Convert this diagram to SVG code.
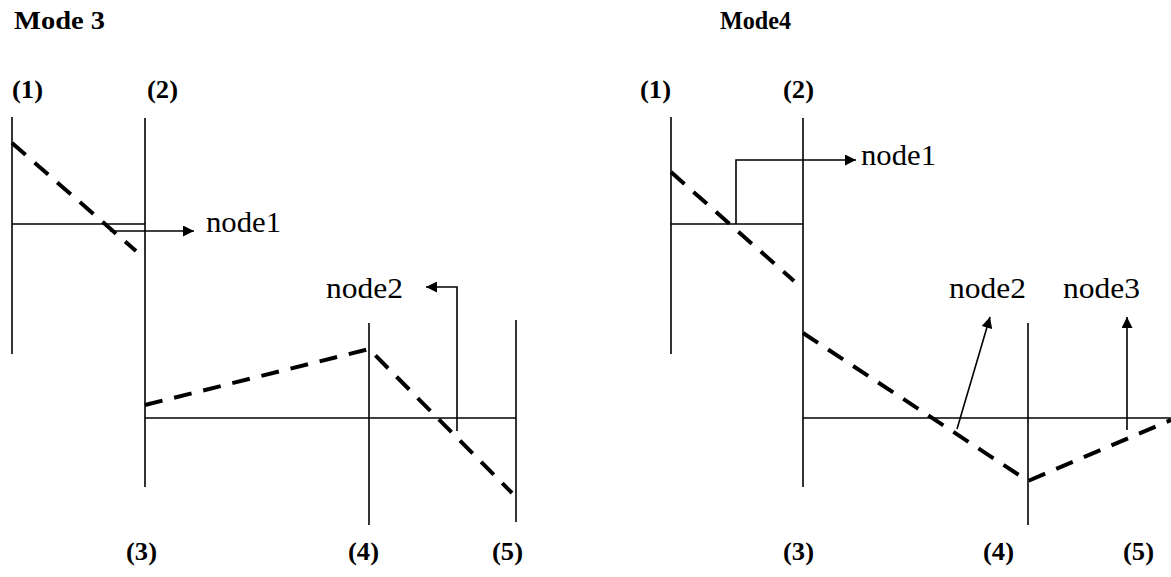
<svg xmlns="http://www.w3.org/2000/svg" width="1171" height="577" viewBox="0 0 1171 577">
<style>
.ln{stroke:#000;stroke-width:1.6;fill:none}
.ds{stroke:#000;stroke-width:4;fill:none;stroke-dasharray:18 12}
.ar{stroke:#000;stroke-width:1.6;fill:none;marker-end:url(#ah)}
.t{font-family:"Liberation Serif","Times New Roman",serif;font-size:29px;fill:#000}
.b{font-family:"Liberation Serif","Times New Roman",serif;font-size:26px;font-weight:bold;fill:#000}
</style>
<defs>
<marker id="ah" viewBox="0 0 10 10" refX="10" refY="5" markerWidth="13" markerHeight="11" markerUnits="userSpaceOnUse" orient="auto"><path d="M0,0 L10,5 L0,10 z" fill="#000"/></marker>
</defs>
<rect width="1171" height="577" fill="#fff"/>
<g id="titles">
<text class="b" x="14" y="29" textLength="91" lengthAdjust="spacingAndGlyphs">Mode 3</text>
<text class="b" x="720" y="29" textLength="71" lengthAdjust="spacingAndGlyphs">Mode4</text>
</g>
<g id="labels">
<text class="b" x="12" y="98" textLength="31" lengthAdjust="spacingAndGlyphs">(1)</text>
<text class="b" x="147" y="98" textLength="31" lengthAdjust="spacingAndGlyphs">(2)</text>
<text class="b" x="126" y="560" textLength="31" lengthAdjust="spacingAndGlyphs">(3)</text>
<text class="b" x="348" y="560" textLength="31" lengthAdjust="spacingAndGlyphs">(4)</text>
<text class="b" x="492" y="560" textLength="31" lengthAdjust="spacingAndGlyphs">(5)</text>
<text class="b" x="640" y="98" textLength="31" lengthAdjust="spacingAndGlyphs">(1)</text>
<text class="b" x="783" y="98" textLength="31" lengthAdjust="spacingAndGlyphs">(2)</text>
<text class="b" x="783" y="560" textLength="31" lengthAdjust="spacingAndGlyphs">(3)</text>
<text class="b" x="983" y="560" textLength="31" lengthAdjust="spacingAndGlyphs">(4)</text>
<text class="b" x="1123" y="560" textLength="31" lengthAdjust="spacingAndGlyphs">(5)</text>
</g>
<g id="mode3">
<line class="ln" x1="12" y1="117" x2="12" y2="354"/>
<line class="ln" x1="145" y1="118" x2="145" y2="487"/>
<line class="ln" x1="12" y1="224" x2="145" y2="224"/>
<line class="ln" x1="145" y1="418" x2="516" y2="418"/>
<line class="ln" x1="369" y1="323" x2="369" y2="525"/>
<line class="ln" x1="516" y1="320" x2="516" y2="522"/>
<polyline class="ds" points="12,143 136,251"/>
<polyline class="ds" points="145,405 369,349 512,493"/>
</g>
<g id="mode4">
<line class="ln" x1="671" y1="117" x2="671" y2="354"/>
<line class="ln" x1="803" y1="118" x2="803" y2="487"/>
<line class="ln" x1="671" y1="224" x2="803" y2="224"/>
<line class="ln" x1="803" y1="418" x2="1171" y2="418"/>
<line class="ln" x1="1028" y1="323" x2="1028" y2="525"/>
<polyline class="ds" points="671,172 794,281"/>
<polyline class="ds" points="803,333 1028,481 1171,420"/>
</g>
<g id="connectors">
<polyline class="ar" points="110,231 194,231"/>
<polyline class="ar" points="457,431 457,287 426,287"/>
<polyline class="ar" points="736,224 736,160 856,160"/>
<polyline class="ar" points="957,429 990,317"/>
<polyline class="ar" points="1127,430 1127,317"/>
</g>
<g id="node1_m3"><text class="t" x="206" y="232" textLength="75" lengthAdjust="spacingAndGlyphs">node1</text></g>
<g id="node2_m3"><text class="t" x="326" y="298" textLength="77" lengthAdjust="spacingAndGlyphs">node2</text></g>
<g id="node1_m4"><text class="t" x="861" y="165" textLength="75" lengthAdjust="spacingAndGlyphs">node1</text></g>
<g id="node2_m4"><text class="t" x="949" y="298" textLength="77" lengthAdjust="spacingAndGlyphs">node2</text></g>
<g id="node3_m4"><text class="t" x="1063" y="298" textLength="77" lengthAdjust="spacingAndGlyphs">node3</text></g>
</svg>
